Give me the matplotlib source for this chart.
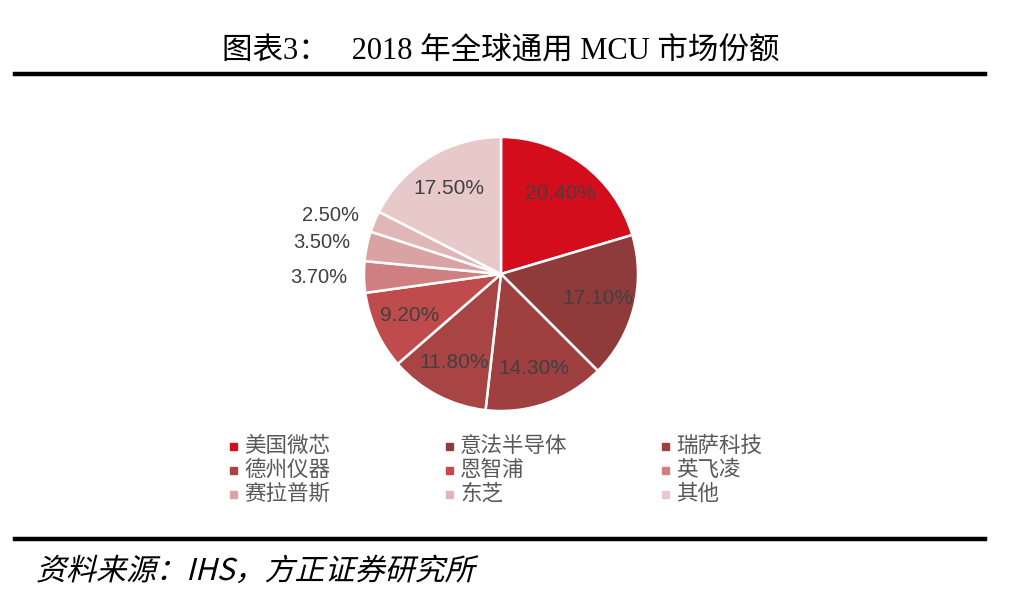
"""2018 global general-purpose MCU market share pie chart."""
import matplotlib

matplotlib.use("Agg")
import matplotlib.pyplot as plt
import numpy as np
from matplotlib.font_manager import FontProperties
from matplotlib.lines import Line2D
from matplotlib.patches import PathPatch, Rectangle
from matplotlib.textpath import TextPath
from matplotlib.transforms import Affine2D

TITLE = "图表3：   2018 年全球通用 MCU 市场份额"
SOURCE = "资料来源：IHS，方正证券研究所"

COMPANIES = ["美国微芯", "意法半导体", "瑞萨科技", "德州仪器", "恩智浦",
             "英飞凌", "赛拉普斯", "东芝", "其他"]
SHARES = [20.4, 17.1, 14.3, 11.8, 9.2, 3.7, 3.5, 2.5, 17.5]
COLORS = ["#D40D1C", "#8F3A3B", "#A03F40", "#A94445", "#C04B4C",
          "#CF7F80", "#D9A2A3", "#E0B6B7", "#E8C9CA"]
OUTSIDE = [False, False, False, False, False, True, True, True, False]

W, H = 1016, 601


def main() -> None:
    fig = plt.figure(figsize=(W / 100, H / 100), dpi=100)
    fig.patch.set_facecolor("white")

    # pie: centre (501, 273) px, radius 137 px
    cx, cy, r = 501, 274, 137
    ax = fig.add_axes([(cx - r) / W, (H - cy - r) / H, 2 * r / W, 2 * r / H])
    wedges, _ = ax.pie(
        SHARES, colors=COLORS, startangle=90, counterclock=False,
        wedgeprops=dict(edgecolor="white", linewidth=1.8),
    )
    ax.set_xlim(-1, 1)
    ax.set_ylim(-1, 1)
    ax.set_aspect("equal")

    for w, val, out in zip(wedges, SHARES, OUTSIDE):
        ang = np.deg2rad((w.theta1 + w.theta2) / 2)
        txt = f"{val:.2f}%"
        if out:
            d = 1.12
            ax.text(d * np.cos(ang), d * np.sin(ang), txt, ha="right",
                    va="center", fontsize=14.5, color="#404040",
                    family="Liberation Sans")
        else:
            d = 0.73
            ax.text(d * np.cos(ang), d * np.sin(ang), txt, ha="center",
                    va="center", fontsize=15, color="#404040",
                    family="Liberation Sans")

    # legend, three per row
    for i, (name, col) in enumerate(zip(COMPANIES, COLORS)):
        row, c = divmod(i, 3)
        x = 233 + c * 216
        y = 446 + row * 24
        fig.patches.append(Rectangle(((x - 3.5) / W, (H - y - 3.5) / H), 7 / W, 7 / H,
                                     transform=fig.transFigure, color=col))
        fig.text((x + 11) / W, (H - y) / H, name, ha="left", va="center",
                 fontsize=15.5, color="#595959", family="Noto Sans CJK SC")

    # title and rules
    fig.text(501 / W, (H - 51) / H, TITLE, ha="center", va="center", fontsize=22,
             color="black", family=["Liberation Serif", "Noto Sans CJK SC"])
    for y in (73.5, 538.5):
        fig.add_artist(Line2D([15 / W, 985 / W], [(H - y) / H] * 2,
                              transform=fig.transFigure, color="black", linewidth=3.2))

    # italic source line (sheared text path)
    tp = TextPath((0, 0), SOURCE, size=30, prop=FontProperties(family="Noto Sans CJK SC"))
    tr = Affine2D().skew_deg(14, 0).translate(36, H - 580)
    fig.patches.append(PathPatch(tp, transform=tr, color="black", lw=0))

    fig.savefig("out.png", dpi=100, facecolor="white")
    plt.close(fig)


if __name__ == "__main__":
    main()
